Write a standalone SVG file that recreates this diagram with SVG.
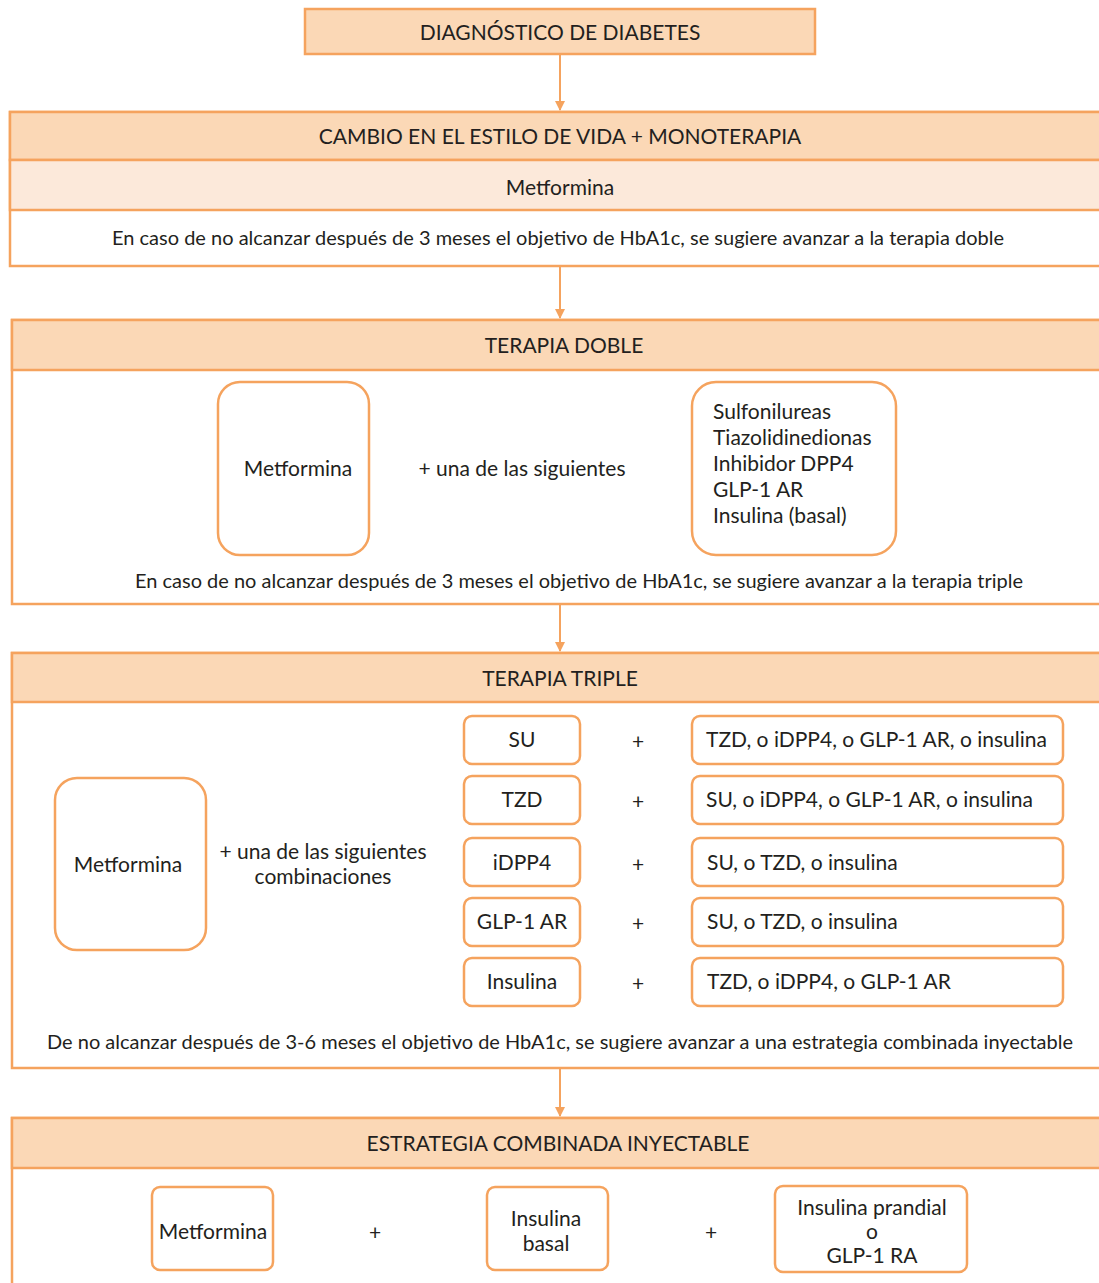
<svg xmlns="http://www.w3.org/2000/svg" width="1099" height="1283" viewBox="0 0 1099 1283">
<defs>
<style>
.hdr{fill:#fbd8b6;stroke:#f5a35e;stroke-width:2.5}
.lt{fill:#fce9da;stroke:#f5a35e;stroke-width:2.5}
.wh{fill:#ffffff;stroke:#f5a35e;stroke-width:2.5}
.rb{fill:#ffffff;stroke:#f5a35e;stroke-width:2.5}
.t{font-family:Lato,"Open Sans","Liberation Sans",sans-serif;font-size:21px;fill:#231f20;text-anchor:middle;dominant-baseline:central}
.tl{text-anchor:start}
.long{font-size:19px}
.conn{stroke:#f5a35e;stroke-width:2;fill:none;marker-end:url(#ah)}
</style>
<marker id="ah" viewBox="0 0 10 10" refX="9" refY="5" markerWidth="5" markerHeight="5" orient="auto">
<path d="M0,0 L10,5 L0,10 z" fill="#f5a35e"/>
</marker>
</defs>
<rect width="1099" height="1283" fill="#ffffff"/>

<g id="connectors">
<line class="conn" x1="560" y1="54" x2="560" y2="110"/>
<line class="conn" x1="560" y1="266" x2="560" y2="318"/>
<line class="conn" x1="560" y1="604" x2="560" y2="651"/>
<line class="conn" x1="560" y1="1068" x2="560" y2="1116"/>
</g>

<g id="diagnostico">
<rect class="hdr" x="305" y="9" width="510" height="45"/>
<text class="t" x="560" y="31">DIAGNÓSTICO DE DIABETES</text>
</g>

<g id="monoterapia">
<rect class="wh" x="10" y="112" width="1100" height="154"/>
<rect class="hdr" x="10" y="112" width="1100" height="48"/>
<rect class="lt" x="10" y="160" width="1100" height="50"/>
<text class="t" x="560" y="135">CAMBIO EN EL ESTILO DE VIDA + MONOTERAPIA</text>
<text class="t" x="560" y="186">Metformina</text>
<text class="t long" x="558" y="237" textLength="892" lengthAdjust="spacingAndGlyphs">En caso de no alcanzar después de 3 meses el objetivo de HbA1c, se sugiere avanzar a la terapia doble</text>
</g>

<g id="terapia-doble">
<rect class="wh" x="12" y="320" width="1100" height="284"/>
<rect class="hdr" x="12" y="320" width="1100" height="50"/>
<text class="t" x="564" y="344">TERAPIA DOBLE</text>
<text class="t long" x="579" y="580" textLength="888" lengthAdjust="spacingAndGlyphs">En caso de no alcanzar después de 3 meses el objetivo de HbA1c, se sugiere avanzar a la terapia triple</text>
</g>
<g id="doble-metformina">
<rect class="rb" x="218" y="382" width="151" height="173" rx="22"/>
<text class="t" x="298" y="467">Metformina</text>
</g>
<text class="t" x="522" y="467">+ una de las siguientes</text>
<g id="doble-opciones">
<rect class="rb" x="692" y="382" width="204" height="173" rx="24"/>
<text class="t tl" x="713" y="410">Sulfonilureas</text>
<text class="t tl" x="713" y="436">Tiazolidinedionas</text>
<text class="t tl" x="713" y="462">Inhibidor DPP4</text>
<text class="t tl" x="713" y="488">GLP-1 AR</text>
<text class="t tl" x="713" y="514">Insulina (basal)</text>
</g>

<g id="terapia-triple">
<rect class="wh" x="12" y="653" width="1100" height="415"/>
<rect class="hdr" x="12" y="653" width="1100" height="49"/>
<text class="t" x="560" y="677">TERAPIA TRIPLE</text>
<text class="t long" x="560" y="1041" textLength="1026" lengthAdjust="spacingAndGlyphs">De no alcanzar después de 3-6 meses el objetivo de HbA1c, se sugiere avanzar a una estrategia combinada inyectable</text>
</g>
<g id="triple-metformina">
<rect class="rb" x="55" y="778" width="151" height="172" rx="22"/>
<text class="t" x="128" y="863">Metformina</text>
</g>
<text class="t" x="323" y="850">+ una de las siguientes</text>
<text class="t" x="323" y="875">combinaciones</text>

<g id="su">
<rect class="rb" x="464" y="716" width="116" height="48" rx="8"/>
<text class="t" x="522" y="738">SU</text>
<text class="t" x="638" y="740">+</text>
<rect class="rb" x="692" y="716" width="371" height="48" rx="8"/>
<text class="t tl" x="706" y="738">TZD, o iDPP4, o GLP-1 AR, o insulina</text>
</g>
<g id="tzd">
<rect class="rb" x="464" y="776" width="116" height="48" rx="8"/>
<text class="t" x="522" y="798">TZD</text>
<text class="t" x="638" y="800">+</text>
<rect class="rb" x="692" y="776" width="371" height="48" rx="8"/>
<text class="t tl" x="706" y="798">SU, o iDPP4, o GLP-1 AR, o insulina</text>
</g>
<g id="idpp4">
<rect class="rb" x="464" y="838" width="116" height="48" rx="8"/>
<text class="t" x="522" y="861">iDPP4</text>
<text class="t" x="638" y="863">+</text>
<rect class="rb" x="692" y="838" width="371" height="48" rx="8"/>
<text class="t tl" x="707" y="861">SU, o TZD, o insulina</text>
</g>
<g id="glp1">
<rect class="rb" x="464" y="898" width="116" height="48" rx="8"/>
<text class="t" x="522" y="920">GLP-1 AR</text>
<text class="t" x="638" y="922">+</text>
<rect class="rb" x="692" y="898" width="371" height="48" rx="8"/>
<text class="t tl" x="707" y="920">SU, o TZD, o insulina</text>
</g>
<g id="insulina">
<rect class="rb" x="464" y="958" width="116" height="48" rx="8"/>
<text class="t" x="522" y="980">Insulina</text>
<text class="t" x="638" y="982">+</text>
<rect class="rb" x="692" y="958" width="371" height="48" rx="8"/>
<text class="t tl" x="707" y="980">TZD, o iDPP4, o GLP-1 AR</text>
</g>

<g id="estrategia">
<rect class="wh" x="12" y="1118" width="1100" height="180"/>
<rect class="hdr" x="12" y="1118" width="1100" height="50"/>
<text class="t" x="558" y="1142">ESTRATEGIA COMBINADA INYECTABLE</text>
</g>
<g id="est-metformina">
<rect class="rb" x="152" y="1187" width="121" height="83" rx="8"/>
<text class="t" x="213" y="1230">Metformina</text>
</g>
<text class="t" x="375" y="1231">+</text>
<g id="est-basal">
<rect class="rb" x="487" y="1187" width="121" height="83" rx="8"/>
<text class="t" x="546" y="1217">Insulina</text>
<text class="t" x="546" y="1242">basal</text>
</g>
<text class="t" x="711" y="1231">+</text>
<g id="est-prandial">
<rect class="rb" x="775" y="1186" width="192" height="86" rx="8"/>
<text class="t" x="872" y="1206">Insulina prandial</text>
<text class="t" x="872" y="1230">o</text>
<text class="t" x="872" y="1254">GLP-1 RA</text>
</g>
</svg>
